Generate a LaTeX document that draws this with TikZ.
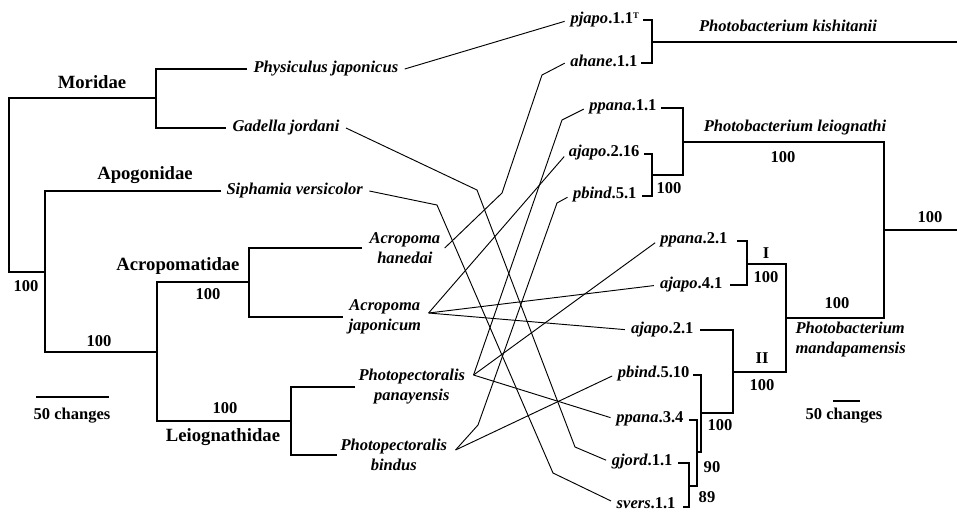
\documentclass[tikz,border=0pt]{standalone}
\usepackage{fontspec}
\setmainfont{Liberation Serif}
\usetikzlibrary{calc}

\tikzset{every picture/.style={line width=0.75pt}}
\tikzset{
  tree/.style={line width=2pt},
  link/.style={line width=0.7pt, shorten >=3.5pt},
  taxon/.style={font=\fontsize{12.4}{15}\selectfont\bfseries\itshape, inner sep=0.75pt},
  strain/.style={font=\fontsize{12.4}{15}\selectfont\bfseries, inner sep=0.75pt},
  family/.style={font=\fontsize{14}{17}\selectfont\bfseries, inner sep=0.75pt},
  boot/.style={font=\fontsize{12.4}{15}\selectfont\bfseries, inner sep=0.75pt},
}

\begin{document}
\begin{tikzpicture}[x=0.75pt,y=0.75pt,yscale=-1,xscale=1]
\useasboundingbox (0,0) rectangle (957,512);

%Host tree
\draw[tree] (247,69) -| (156,128) -- (226,128);
\draw[tree] (156,98) -| (9,272) -- (45,272);
\draw[tree] (221,191) -| (45,352) -- (157,352);
\draw[tree] (249,282) -| (157,421) -- (291,421);
\draw[tree] (362,248) -| (249,317) -- (343,317);
\draw[tree] (355,387) -| (291,455) -- (337,455);
%Scale bar
\draw[tree] (36,397) -- (109,397);

%Symbiont tree
\draw[tree] (643,20) -| (652,63) -- (641,63);
\draw[tree] (652,42) -- (957,42);
\draw[tree] (644,154) -| (652,196) -- (642,196);
\draw[tree] (661,108) -| (683,175) -- (652,175);
\draw[tree] (683,142) -| (884,318) -- (786,318);
\draw[tree] (884,230) -- (957,230);
\draw[tree] (737,241) -| (747,285) -- (730,285);
\draw[tree] (747,264) -| (786,372) -- (733,372);
\draw[tree] (700,330) -| (733,413) -- (701,413);
\draw[tree] (693,375) -| (701,452) -- (697,452);
\draw[tree] (689,420) -| (697,486) -- (689,486);
\draw[tree] (678,463) -| (689,507) -- (683,507);
%Scale bar
\draw[tree] (833,401) -- (860,401);

% Host labels
\node[family] (morid) at (92,82) {Moridae};
\node[family] (apogo) at (145,175) {Apogonidae};
\node[family] (acrop) at (178,266) {Acropomatidae};
\node[family] (leiog) at (223,437) {Leiognathidae};
\node[taxon, anchor=west] (phys) at (252,69) {Physiculus japonicus};
\node[taxon, anchor=west] (gad) at (231,128) {Gadella jordani};
\node[taxon, anchor=west] (siph) at (225,191) {Siphamia versicolor};
\node[taxon, anchor=west, align=center] (hane) at (368,248) {Acropoma\\hanedai};
\node[taxon, anchor=west, align=center] (japo) at (347,317) {Acropoma\\japonicum};
\node[taxon, anchor=west, align=center] (pana) at (357,387) {Photopectoralis\\panayensis};
\node[taxon, anchor=west, align=center] (bind) at (339,455) {Photopectoralis\\bindus};
\node[boot] (b1) at (26,286) {100};
\node[boot] (b2) at (99,341) {100};
\node[boot] (b3) at (208,294) {100};
\node[boot] (b4) at (225,408) {100};
\node[boot] (scaleL) at (72,416) {50 changes};

% Symbiont labels
\node[strain, anchor=east] (pjapo11) at (641,20) {\textit{pjapo}.1.1\textsuperscript{\fontsize{6.5}{7}\selectfont T}};
\node[strain, anchor=east] (ahane11) at (639,61) {\textit{ahane}.1.1};
\node[strain, anchor=east] (ppana11) at (658,107) {\textit{ppana}.1.1};
\node[strain, anchor=east] (ajapo216) at (641,153) {\textit{ajapo}.2.16};
\node[strain, anchor=east] (pbind51) at (638,195) {\textit{pbind}.5.1};
\node[strain, anchor=east] (ppana21) at (729,240) {\textit{ppana}.2.1};
\node[strain, anchor=east] (ajapo41) at (724,285) {\textit{ajapo}.4.1};
\node[strain, anchor=east] (ajapo21) at (695,330) {\textit{ajapo}.2.1};
\node[strain, anchor=east] (pbind510) at (691,374) {\textit{pbind}.5.10};
\node[strain, anchor=east] (ppana34) at (685,419) {\textit{ppana}.3.4};
\node[strain, anchor=east] (gjord11) at (674,462) {\textit{gjord}.1.1};
\node[strain, anchor=east] (svers11) at (677,503) {\textit{svers}.1.1};
\node[taxon] (kish) at (788,26) {Photobacterium kishitanii};
\node[taxon] (leio) at (795,128) {Photobacterium leiognathi};
\node[taxon, anchor=west, align=left] (mand) at (794,340) {Photobacterium\\mandapamensis};
\node[boot] (c1) at (783,157) {100};
\node[boot] (c2) at (669,188) {100};
\node[boot] (c3) at (930,217) {100};
\node[boot] (c4) at (837,303) {100};
\node[boot] (cladeI) at (766,253) {I};
\node[boot] (c5) at (766,277) {100};
\node[boot] (cladeII) at (762,358) {II};
\node[boot] (c6) at (762,385) {100};
\node[boot] (c7) at (720,425) {100};
\node[boot] (c8) at (712,467) {90};
\node[boot] (c9) at (707,497) {89};
\node[boot] (scaleR) at (844,416) {50 changes};

% Association ports
\coordinate (physP) at ($(phys.east)+(5,0)$);
\coordinate (gadP) at ($(gad.east)+(5,0)$);
\coordinate (siphP) at ($(siph.east)+(5,0)$);
\coordinate (haneP) at ($(hane.east)+(3,0)$);
\coordinate (japoP) at ($(japo.east)+(6,-4)$);
\coordinate (panaP) at ($(pana.east)+(7,-12)$);
\coordinate (bindP) at ($(bind.east)+(7,-5)$);

% Host--symbiont links
\draw[link] (physP) -- (pjapo11.west);
\draw[link] (gadP) -- (477,190) -- (575,447) -- (gjord11.west);
\draw[link] (siphP) -- (437,205) -- (553,473) -- (svers11.west);
\draw[link] (haneP) -- (502,193) -- (542,75) -- (ahane11.west);
\draw[link] (japoP) -- (ajapo216.west);
\draw[link] (japoP) -- (ajapo41.west);
\draw[link] (japoP) -- (ajapo21.west);
\draw[link] (panaP) -- (562,120) -- (ppana11.west);
\draw[link] (panaP) -- (ppana21.west);
\draw[link] (panaP) -- (ppana34.west);
\draw[link] (bindP) -- (478,425) -- (557,203) -- (pbind51.west);
\draw[link] (bindP) -- (pbind510.west);
\end{tikzpicture}
\end{document}
